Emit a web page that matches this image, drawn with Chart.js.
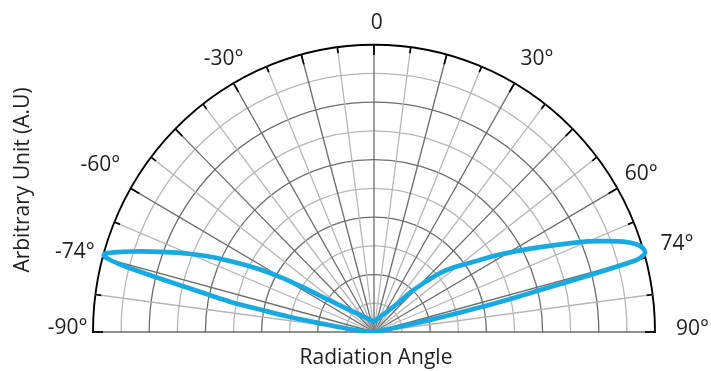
<!DOCTYPE html>
<html>
<head>
<meta charset="utf-8">
<script src="https://cdn.jsdelivr.net/npm/chart.js@4.4.1/dist/chart.umd.min.js"></script>
<style>
html, body { margin: 0; padding: 0; background: #ffffff; }
#frame { position: relative; width: 711px; height: 371px; overflow: hidden; }
#box { position: absolute; left: 0; top: 0; width: 711px; height: 620px; }
</style>
</head>
<body>
<div id="frame"><div id="box"><canvas id="c"></canvas></div></div>
<script>
// ---------------- data ----------------
// angle in degrees from the vertical (clockwise positive), value in A.U. (0..1)
const rightAngles = [0, 10, 16, 21.5, 26.5, 31, 36.5, 41, 42.5, 46, 49, 52, 55.5, 58, 60, 62.5, 65, 67.5, 69, 70.5, 72, 73, 74, 74.5, 75, 75.5, 76, 76.5, 77, 77.5, 78, 78.5, 79, 79.5, 80.5, 83, 90];
const rightValues = [0.036, 0.042, 0.048, 0.055, 0.065, 0.077, 0.101, 0.137, 0.177, 0.245, 0.314, 0.369, 0.433, 0.498, 0.551, 0.628, 0.718, 0.825, 0.883, 0.942, 0.985, 1.0, 1.004, 0.993, 0.965, 0.81, 0.64, 0.53, 0.43, 0.31, 0.215, 0.13, 0.06, 0.035, 0.012, 0.004, 0];
const leftAngles = [-8, -17, -24, -36, -43, -47.5, -50.5, -54.5, -57, -58.5, -60, -61.5, -63, -64.5, -66, -67.5, -69, -70.5, -72, -73, -74, -74.5, -75, -75.5, -76, -76.5, -77, -77.5, -78, -78.5, -79, -80, -81, -82, -84, -86, -88, -90];
const leftValues = [0.039, 0.044, 0.05, 0.068, 0.088, 0.109, 0.131, 0.18, 0.2385, 0.30, 0.375, 0.449, 0.514, 0.578, 0.648, 0.712, 0.773, 0.839, 0.907, 0.952, 0.993, 0.998, 0.975, 0.92, 0.834, 0.746, 0.672, 0.611, 0.561, 0.511, 0.421, 0.312, 0.198, 0.129, 0.074, 0.035, 0.012, 0];

const angleLabelTexts = ['-90°', '-74°', '-60°', '-30°', '0', '30°', '60°', '74°', '90°'];
const angleLabelAngles = [-90, -74, -60, -30, 0, 30, 60, 74, 90];
const gridAngleStep = 7.5;      // radial grid lines
const radialMin = 0, radialMax = 1, radialStep = 0.1;
const xTitle = 'Radiation Angle';
const yTitle = 'Arbitrary Unit (A.U)';

// ---------------- build the radar categories / series ----------------
const STEP = 0.5;
const N = Math.round(360 / STEP);
const categories = Array.from({ length: N }, (_, i) => i * STEP);
const series = new Array(N).fill(null);
function put(a, v) { series[Math.round((((a % 360) + 360) % 360) / STEP) % N] = v; }
rightAngles.forEach((a, i) => put(a, rightValues[i]));
leftAngles.forEach((a, i) => put(a, leftValues[i]));

// ---------------- styles ----------------
const DARK = '#6d6d6d', LIGHT = '#b7b7b7', INK = '#231f20';
const KY = 1.0224; // the reference's polar frame is slightly taller than wide
const FONT = '21px "Open Sans", "Noto Sans", sans-serif';
// label placement: [distance beyond outer ring (px), angular nudge (deg)]
const labelPlace = [[25.5, 0.8], [28, -1.4], [37.5, 0.8], [25.5, 0.6], [21, 0.5], [32, 1.4], [28, -0.1], [34, 0.15], [37.5, -0.6]];

function signedDeg(i) { const d = i * STEP; return d > 180 ? d - 360 : d; }

const halfPolar = {
  id: 'halfPolar',
  beforeDraw(chart) {
    const ctx = chart.ctx, s = chart.scales.r;
    ctx.save();
    ctx.beginPath();
    ctx.rect(0, 0, chart.width, s.yCenter + 1);
    ctx.clip();
    ctx.translate(0, s.yCenter);
    ctx.scale(1, KY);
    ctx.translate(0, -s.yCenter);
  },
  beforeDatasetsDraw(chart) {
    const ctx = chart.ctx, s = chart.scales.r;
    const R = s.getDistanceFromCenterForValue(radialMax);
    ctx.save();
    ctx.strokeStyle = '#000';
    ctx.lineWidth = 1.7;
    for (let a = -90; a <= 90; a += gridAngleStep) {
      const len = (a % 15 === 0) ? 10 : 6;
      const t = a * Math.PI / 180;
      ctx.beginPath();
      ctx.moveTo(s.xCenter + (R - len) * Math.sin(t), s.yCenter - (R - len) * Math.cos(t));
      ctx.lineTo(s.xCenter + R * Math.sin(t), s.yCenter - R * Math.cos(t));
      ctx.stroke();
    }
    ctx.restore();
  },
  afterDraw(chart) {
    const ctx = chart.ctx, s = chart.scales.r;
    ctx.restore();
    const R = s.getDistanceFromCenterForValue(radialMax);
    ctx.save();
    ctx.fillStyle = INK;
    ctx.font = FONT;
    ctx.textAlign = 'center';
    ctx.textBaseline = 'middle';
    angleLabelTexts.forEach((txt, i) => {
      const [gap, nudge] = labelPlace[i];
      const t = (angleLabelAngles[i] + nudge) * Math.PI / 180;
      const d = R + gap;
      ctx.fillText(txt, s.xCenter + d * Math.sin(t), s.yCenter - d * Math.cos(t) * KY);
    });
    ctx.textBaseline = 'alphabetic';
    ctx.fillText(xTitle, s.xCenter + 2, s.yCenter + 32);
    ctx.translate(28.5, s.yCenter - 152);
    ctx.rotate(-Math.PI / 2);
    ctx.fillText(yTitle, 0, 0);
    ctx.restore();
  }
};

new Chart(document.getElementById('c'), {
  type: 'radar',
  data: {
    labels: categories,
    datasets: [{
      data: series,
      borderColor: '#16a9e2',
      backgroundColor: 'rgba(0,0,0,0)',
      borderWidth: 4.6,
      borderJoinStyle: 'round',
      borderCapStyle: 'round',
      pointRadius: 0,
      pointHoverRadius: 0,
      pointHitRadius: 0,
      fill: false,
      tension: 0.25,
      spanGaps: true
    }]
  },
  options: {
    responsive: true,
    maintainAspectRatio: false,
    animation: false,
    devicePixelRatio: 1,
    events: [],
    layout: { padding: { left: 93, right: 56, top: 51, bottom: 7 } },
    plugins: { legend: { display: false }, tooltip: { enabled: false } },
    scales: {
      r: {
        min: radialMin,
        max: radialMax,
        startAngle: 0,
        ticks: { display: false, stepSize: radialStep },
        pointLabels: { display: false },
        grid: {
          circular: true,
          color: (c) => c.index === 10 ? '#000000' : (c.index % 2 === 0 ? DARK : LIGHT),
          lineWidth: (c) => c.index === 10 ? 1.9 : 1.3
        },
        angleLines: {
          display: true,
          color: (c) => (signedDeg(c.index) % 15 === 0) ? DARK : LIGHT,
          lineWidth: (c) => {
            const a = signedDeg(c.index);
            if (a < -90 || a > 90) return 0;
            return (a % gridAngleStep === 0) ? 1.3 : 0;
          }
        }
      }
    }
  },
  plugins: [halfPolar]
});
</script>
</body>
</html>
